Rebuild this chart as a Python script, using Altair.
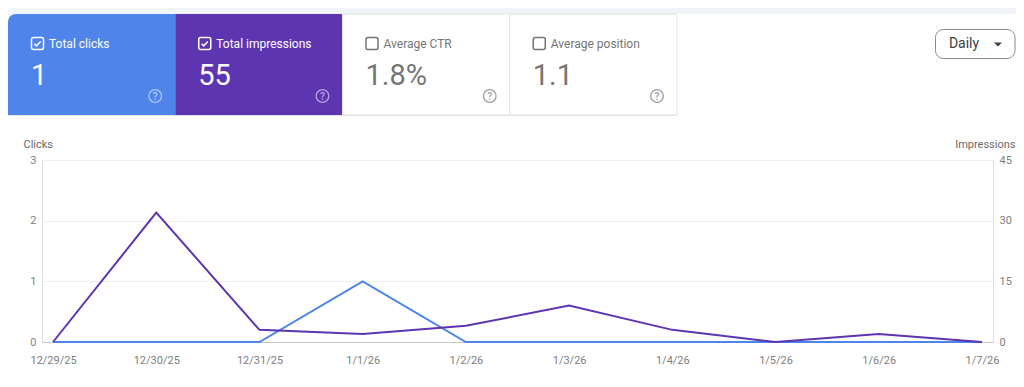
import altair as alt
import pandas as pd

# ---------------- data ----------------
dates = ["12/29/25", "12/30/25", "12/31/25", "1/1/26", "1/2/26",
         "1/3/26", "1/4/26", "1/5/26", "1/6/26", "1/7/26"]
clicks = [0, 0, 0, 1, 0, 0, 0, 0, 0, 0]
impressions = [0, 32, 3, 2, 4, 9, 3, 0, 2, 0]

card_labels = ["Total clicks", "Total impressions", "Average CTR", "Average position"]
card_values = ["1", "55", "1.8%", "1.1"]
card_checked = [True, True, False, False]
period_label = "Daily"

clicks_ticks = [0, 1, 2, 3]
impr_ticks = [0, 15, 30, 45]

# ---------------- styles ----------------
BLUE = "#4f84ea"
PURPLE = "#5e35b1"
PAGE_BG = "#f1f4f9"
GRID = "#eeeeee"
BASE = "#c6c6c6"
LABEL = "#808080"
FONT = "Roboto"

W, H = 951, 182          # plot area
OX, OY = 42, 160         # page position of plot origin


def px(x):
    return x - OX


def py(y):
    return y - OY


one = pd.DataFrame({"k": [0]})
layers = []

# light page strip at top + corner backing
layers.append(alt.Chart(one).mark_rect(color=PAGE_BG).encode(
    x=alt.value(px(8)), x2=alt.value(px(1030)), y=alt.value(py(8)), y2=alt.value(py(14))))
layers.append(alt.Chart(one).mark_rect(color=PAGE_BG).encode(
    x=alt.value(px(8)), x2=alt.value(px(18)), y=alt.value(py(14)), y2=alt.value(py(24))))

cards_df = pd.DataFrame({"label": card_labels, "value": card_values})
card_fill = [BLUE, PURPLE, "white", "white"]
CW = 167.25
for i in range(len(card_labels)):
    left = 8 + i * CW
    right = left + CW
    d = cards_df.iloc[[i]]
    colored = card_fill[i] != "white"
    fg = "white" if colored else "#757575"
    rect_kw = dict(color=card_fill[i])
    if i == 0:
        rect_kw["cornerRadiusTopLeft"] = 8
    if not colored:
        rect_kw.update(stroke="#e3e3e3", strokeWidth=1)
    layers.append(alt.Chart(d).mark_rect(**rect_kw).encode(
        x=alt.value(px(left)), x2=alt.value(px(right)),
        y=alt.value(py(14)), y2=alt.value(py(115))))
    # checkbox
    box_col = "white" if colored else "#757575"
    layers.append(alt.Chart(d).mark_rect(fillOpacity=0, stroke=box_col, strokeWidth=1.5,
                                         cornerRadius=2).encode(
        x=alt.value(px(left + 23.5)), x2=alt.value(px(left + 35.5)),
        y=alt.value(py(37.5)), y2=alt.value(py(49.5))))
    if card_checked[i]:
        layers.append(alt.Chart(d).mark_point(
            shape="M-0.6,0.05 L-0.2,0.45 L0.6,-0.4", filled=False, stroke="white",
            strokeWidth=1.5, size=110, opacity=1).encode(
            x=alt.value(px(left + 29.5)), y=alt.value(py(43.5))))
    # label
    layers.append(alt.Chart(d).mark_text(align="left", baseline="middle", font=FONT,
                                         fontSize=12, color=fg).encode(
        x=alt.value(px(left + 41)), y=alt.value(py(44)), text="label:N"))
    # value
    layers.append(alt.Chart(d).mark_text(align="left", baseline="middle", font=FONT,
                                         fontSize=29, fontWeight=400, color=fg).encode(
        x=alt.value(px(left + 23)), y=alt.value(py(76)), text="value:N"))
    # help icon
    hc = "white" if colored else "#9e9e9e"
    ho = 0.55 if colored else 1
    layers.append(alt.Chart(d).mark_point(shape="circle", filled=False, stroke=hc,
                                          strokeWidth=1.3, size=160, opacity=ho).encode(
        x=alt.value(px(right - 20)), y=alt.value(py(96))))
    layers.append(alt.Chart(d).mark_text(text="?", font=FONT, fontSize=10, fontWeight=500,
                                         color=hc, opacity=ho, baseline="middle").encode(
        x=alt.value(px(right - 20)), y=alt.value(py(96.5))))

# bottom border under the cards
layers.append(alt.Chart(one).mark_rule(color="#e3e3e3", strokeWidth=1).encode(
    x=alt.value(px(8)), x2=alt.value(px(677)), y=alt.value(py(115.5))))

# Daily dropdown button
per = pd.DataFrame({"p": [period_label]})
layers.append(alt.Chart(per).mark_rect(fill="white", stroke="#8a8a8a", strokeWidth=1,
                                       cornerRadius=8).encode(
    x=alt.value(px(935.5)), x2=alt.value(px(1015)),
    y=alt.value(py(29.5)), y2=alt.value(py(58.5))))
layers.append(alt.Chart(per).mark_text(font=FONT, fontSize=14, fontWeight=400,
                                       color="#3c4043", baseline="middle").encode(
    x=alt.value(px(964)), y=alt.value(py(44)), text="p:N"))
layers.append(alt.Chart(per).mark_point(shape="M-1,-0.5 L1,-0.5 L0,0.5 Z", filled=True,
                                        color="#3c4043", size=64, opacity=1).encode(
    x=alt.value(px(998)), y=alt.value(py(44.5))))

# ---------------- line chart ----------------
df = pd.DataFrame({"date": dates, "clicks": clicks, "impressions": impressions})

x_enc = alt.X("date:O", sort=dates,
              scale=alt.Scale(type="point", padding=0.107),
              axis=alt.Axis(title=None, labelAngle=0, ticks=False, domain=True,
                            domainColor=BASE, domainWidth=1, labelPadding=12,
                            labelFontSize=11, labelColor=LABEL, labelFont=FONT,
                            grid=False))

left_axis = alt.Axis(values=clicks_ticks, title="Clicks", orient="left",
                     titleAngle=0, titleAlign="left", titleBaseline="middle",
                     titleX=-19, titleY=-16, titleFontSize=11, titleFontWeight="normal",
                     titleColor="#6b6b6b", titleFont=FONT,
                     labelColor=LABEL, labelFontSize=11, labelFont=FONT, labelPadding=6,
                     ticks=False, domain=False, grid=True, gridColor=GRID, gridWidth=1)
right_axis = alt.Axis(values=impr_ticks, title="Impressions", orient="right",
                      titleAngle=0, titleAlign="right", titleBaseline="middle",
                      titleX=22, titleY=-16, titleFontSize=11, titleFontWeight="normal",
                      titleColor="#6b6b6b", titleFont=FONT,
                      labelColor=LABEL, labelFontSize=11, labelFont=FONT, labelPadding=6,
                      ticks=False, domain=False, grid=False)

clicks_line = alt.Chart(df).mark_line(color=BLUE, strokeWidth=2).encode(
    x=x_enc,
    y=alt.Y("clicks:Q", scale=alt.Scale(domain=[0, 3], nice=False), axis=left_axis))
impr_line = alt.Chart(df).mark_line(color=PURPLE, strokeWidth=2).encode(
    x=x_enc,
    y=alt.Y("impressions:Q", scale=alt.Scale(domain=[0, 45], nice=False), axis=right_axis))

layers += [clicks_line, impr_line]

chart = alt.layer(*layers).resolve_scale(y="independent").properties(
    width=W, height=H,
    padding={"left": 34, "top": 152, "right": 1008 - 34 - W, "bottom": 371 - 152 - H},
    autosize=alt.AutoSizeParams(type="none"),
    background="white",
).configure_view(strokeWidth=0).configure(font=FONT)

chart.save("out.html", embed_options={"renderer": "svg", "actions": False})
